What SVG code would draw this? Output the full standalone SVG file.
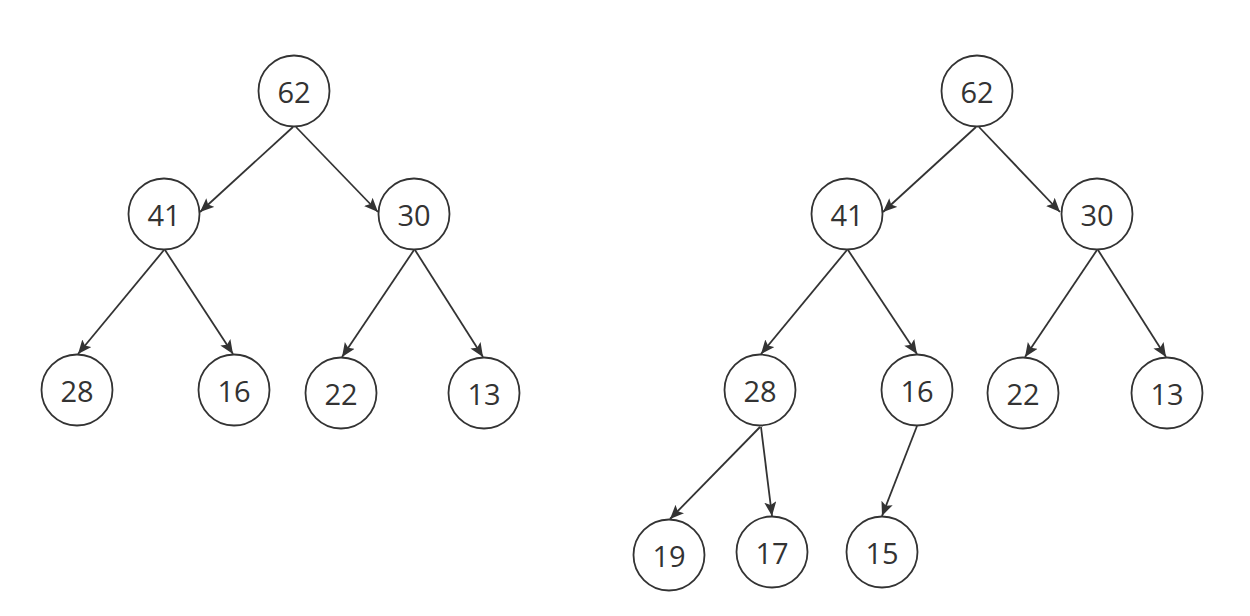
<svg xmlns="http://www.w3.org/2000/svg" width="1250" height="616" viewBox="0 0 1250 616">
<style>
.n ellipse{fill:#fff;stroke:#333;stroke-width:1.8}
.n text{font-family:"Open Sans","Noto Sans",sans-serif;font-size:29px;fill:#333;text-anchor:middle}
.e path{stroke:#333;stroke-width:1.8;fill:none;marker-end:url(#a)}
</style>
<defs>
<marker id="a" markerUnits="userSpaceOnUse" markerWidth="16" markerHeight="14" refX="14" refY="6" orient="auto" viewBox="0 0 16 14">
<path d="M0,0 L14,6 L0,12 L3,6 z" fill="#333"/>
</marker>
</defs>
<rect width="1250" height="616" fill="#fff"/>
<g id="connectors" class="e">
<path d="M293,127 L200,212"/>
<path d="M296,127 L378,212"/>
<path d="M164,250 L78,354"/>
<path d="M165,250 L233,354"/>
<path d="M414,250 L342,357"/>
<path d="M415,250 L483,357"/>
<path d="M976,127 L883,212"/>
<path d="M979,127 L1060,212"/>
<path d="M847,250 L761,354"/>
<path d="M848,250 L917,354"/>
<path d="M1097,250 L1025,357"/>
<path d="M1098,250 L1166,357"/>
<path d="M760,427 L670,519"/>
<path d="M761,427 L772,516"/>
<path d="M917,426 L882,516"/>
</g>
<g id="L62" class="n"><ellipse cx="294" cy="91" rx="35.5" ry="35.5"/><text x="294" y="103">62</text></g>
<g id="L41" class="n"><ellipse cx="164" cy="214" rx="35.5" ry="35.5"/><text x="164" y="226">41</text></g>
<g id="L30" class="n"><ellipse cx="414" cy="214" rx="35.5" ry="35.5"/><text x="414" y="226">30</text></g>
<g id="L28" class="n"><ellipse cx="77" cy="390" rx="35.5" ry="35.5"/><text x="77" y="402">28</text></g>
<g id="L16" class="n"><ellipse cx="234" cy="390" rx="35.5" ry="35.5"/><text x="234" y="402">16</text></g>
<g id="L22" class="n"><ellipse cx="341" cy="393" rx="35.5" ry="35.5"/><text x="341" y="405">22</text></g>
<g id="L13" class="n"><ellipse cx="484" cy="393" rx="35.5" ry="35.5"/><text x="484" y="405">13</text></g>
<g id="R62" class="n"><ellipse cx="977" cy="91" rx="35.5" ry="35.5"/><text x="977" y="103">62</text></g>
<g id="R41" class="n"><ellipse cx="847" cy="214" rx="35.5" ry="35.5"/><text x="847" y="226">41</text></g>
<g id="R30" class="n"><ellipse cx="1097" cy="214" rx="35.5" ry="35.5"/><text x="1097" y="226">30</text></g>
<g id="R28" class="n"><ellipse cx="760" cy="390" rx="35.5" ry="35.5"/><text x="760" y="402">28</text></g>
<g id="R16" class="n"><ellipse cx="917" cy="390" rx="35.5" ry="35.5"/><text x="917" y="402">16</text></g>
<g id="R22" class="n"><ellipse cx="1023" cy="393" rx="35.5" ry="35.5"/><text x="1023" y="405">22</text></g>
<g id="R13" class="n"><ellipse cx="1167" cy="393" rx="35.5" ry="35.5"/><text x="1167" y="405">13</text></g>
<g id="R19" class="n"><ellipse cx="669" cy="555" rx="35.5" ry="35.5"/><text x="669" y="567">19</text></g>
<g id="R17" class="n"><ellipse cx="772" cy="552" rx="35.5" ry="35.5"/><text x="772" y="564">17</text></g>
<g id="R15" class="n"><ellipse cx="882" cy="552" rx="35.5" ry="35.5"/><text x="882" y="564">15</text></g>
</svg>
